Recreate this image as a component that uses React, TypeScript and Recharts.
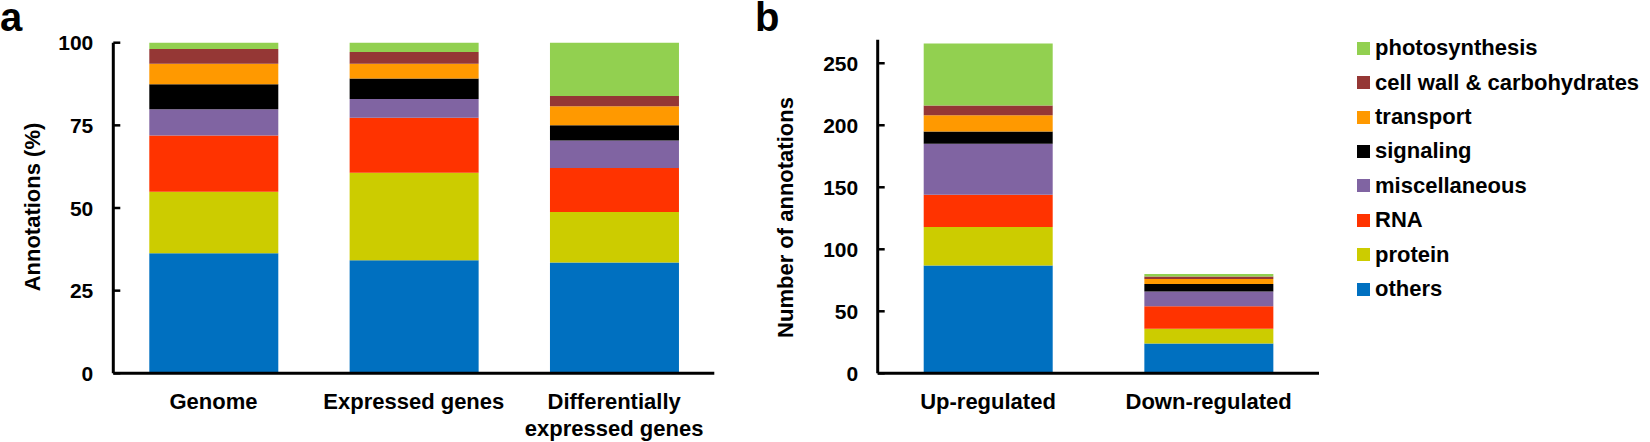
import React from "react";
import { Bar, BarChart, Label, XAxis, YAxis } from "recharts";

const FONT = "'Liberation Sans', Arial, Helvetica, sans-serif";

// stack order, bottom to top
const seriesKeys = ["others", "protein", "rna", "misc", "signaling", "transport", "cellWall", "photo"];
const seriesNames = [
  "others",
  "protein",
  "RNA",
  "miscellaneous",
  "signaling",
  "transport",
  "cell wall & carbohydrates",
  "photosynthesis",
];
const seriesColors = ["#0070C0", "#CCCC00", "#FF3300", "#8064A2", "#000000", "#FF9900", "#953735", "#92D050"];

// panel a: share of annotations (%)
const categoriesA = ["Genome", "Expressed genes", "Differentially\nexpressed genes"];
const othersA = [36.3, 34.2, 33.5];
const proteinA = [18.6, 26.5, 15.3];
const rnaA = [17.0, 16.6, 13.3];
const miscA = [8.0, 5.7, 8.3];
const signalingA = [7.5, 6.2, 4.6];
const transportA = [6.2, 4.4, 5.8];
const cellWallA = [4.5, 3.6, 3.1];
const photoA = [1.9, 2.8, 16.1];
const ticksA = [0, 25, 50, 75, 100];

// panel b: number of annotations
const categoriesB = ["Up-regulated", "Down-regulated"];
const othersB = [87, 24];
const proteinB = [31, 12];
const rnaB = [26, 18];
const miscB = [41, 12];
const signalingB = [10, 6];
const transportB = [13, 4];
const cellWallB = [8, 2];
const photoB = [50, 2];
const ticksB = [0, 50, 100, 150, 200, 250];

function buildRows(categories: string[], columns: number[][]) {
  return categories.map((category, i) => {
    const row: Record<string, string | number> = { category };
    seriesKeys.forEach((key, j) => {
      row[key] = columns[j][i];
    });
    return row;
  });
}

const dataA = buildRows(categoriesA, [othersA, proteinA, rnaA, miscA, signalingA, transportA, cellWallA, photoA]);
const dataB = buildRows(categoriesB, [othersB, proteinB, rnaB, miscB, signalingB, transportB, cellWallB, photoB]);

const textStyle = { fontFamily: FONT, fontWeight: "bold" as const, fill: "#000" };

// ticks point inward, so draw them here instead of using tickLine
function makeYTick(gap: number) {
  return (props: any) => {
    const { x, y, payload } = props;
    const axisX = x + gap;
    return (
      <g>
        <line x1={axisX} x2={axisX + 7} y1={y} y2={y} stroke="#000" strokeWidth={2.5} />
        <text x={x} y={y} dy={7.5} textAnchor="end" fontSize={21} {...textStyle}>
          {payload.value}
        </text>
      </g>
    );
  };
}

function XTick(props: any) {
  const { x, y, payload } = props;
  const lines = String(payload.value).split("\n");
  return (
    <text x={x} y={y} textAnchor="middle" fontSize={22} {...textStyle}>
      {lines.map((line, i) => (
        <tspan key={i} x={x} dy={i === 0 ? 36 : 26.7}>
          {line}
        </tspan>
      ))}
    </text>
  );
}

function axisTitle(text: string, cx: number, cy: number) {
  return () => (
    <text transform={`translate(${cx}, ${cy}) rotate(-90)`} textAnchor="middle" dy="0.35em" fontSize={22} {...textStyle}>
      {text}
    </text>
  );
}

const axisLine = { stroke: "#000", strokeWidth: 3 };

function Bars() {
  return (
    <>
      {seriesKeys.map((key, i) => (
        <Bar
          key={key}
          dataKey={key}
          name={seriesNames[i]}
          stackId="s"
          fill={seriesColors[i]}
          barSize={129}
          isAnimationActive={false}
        />
      ))}
    </>
  );
}

export default function App() {
  const legendOrder = seriesKeys.map((_, i) => i).reverse();
  return (
    <div style={{ position: "absolute", left: 0, top: 0, width: 1650, height: 442, background: "#fff" }}>
      <div style={{ position: "absolute", left: 0, top: 0 }}>
        <BarChart width={740} height={442} data={dataA} margin={{ top: 42.7, right: 25.7, bottom: 8.7, left: 8 }}>
          <XAxis
            dataKey="category"
            height={60}
            axisLine={axisLine}
            tickLine={false}
            tickSize={0}
            tickMargin={0}
            interval={0}
            tick={<XTick />}
          />
          <YAxis
            type="number"
            domain={[0, 100]}
            ticks={ticksA}
            interval={0}
            width={105.3}
            axisLine={axisLine}
            tickLine={false}
            tickSize={0}
            tickMargin={20}
            tick={makeYTick(20)}
          >
            <Label content={axisTitle("Annotations (%)", 32, 207)} />
          </YAxis>
          {Bars()}
        </BarChart>
      </div>

      <div style={{ position: "absolute", left: 740, top: 0 }}>
        <BarChart width={600} height={442} data={dataB} margin={{ top: 39.7, right: 21, bottom: 8.7, left: 8 }}>
          <XAxis
            dataKey="category"
            height={60}
            axisLine={axisLine}
            tickLine={false}
            tickSize={0}
            tickMargin={0}
            interval={0}
            tick={<XTick />}
          />
          <YAxis
            type="number"
            domain={[0, 269]}
            ticks={ticksB}
            interval={0}
            width={129.7}
            axisLine={axisLine}
            tickLine={false}
            tickSize={0}
            tickMargin={19.5}
            tick={makeYTick(19.5)}
          >
            <Label content={axisTitle("Number of annotations", 45, 217.5)} />
          </YAxis>
          {Bars()}
        </BarChart>
      </div>

      <svg width={1650} height={442} style={{ position: "absolute", left: 0, top: 0, pointerEvents: "none" }}>
        <text x={0} y={30.5} fontSize={40} {...textStyle}>
          a
        </text>
        <text x={755} y={31} fontSize={40} {...textStyle}>
          b
        </text>
      </svg>

      <div style={{ position: "absolute", left: 1357, top: 31.1 }}>
        {legendOrder.map((i) => (
          <div key={seriesKeys[i]} style={{ display: "flex", alignItems: "center", height: 34.4 }}>
            <span style={{ width: 13, height: 13, background: seriesColors[i], marginRight: 5, flex: "none" }} />
            <span
              style={{ fontFamily: FONT, fontWeight: "bold", fontSize: 22, color: "#000", whiteSpace: "nowrap", lineHeight: 1 }}
            >
              {seriesNames[i]}
            </span>
          </div>
        ))}
      </div>
    </div>
  );
}
